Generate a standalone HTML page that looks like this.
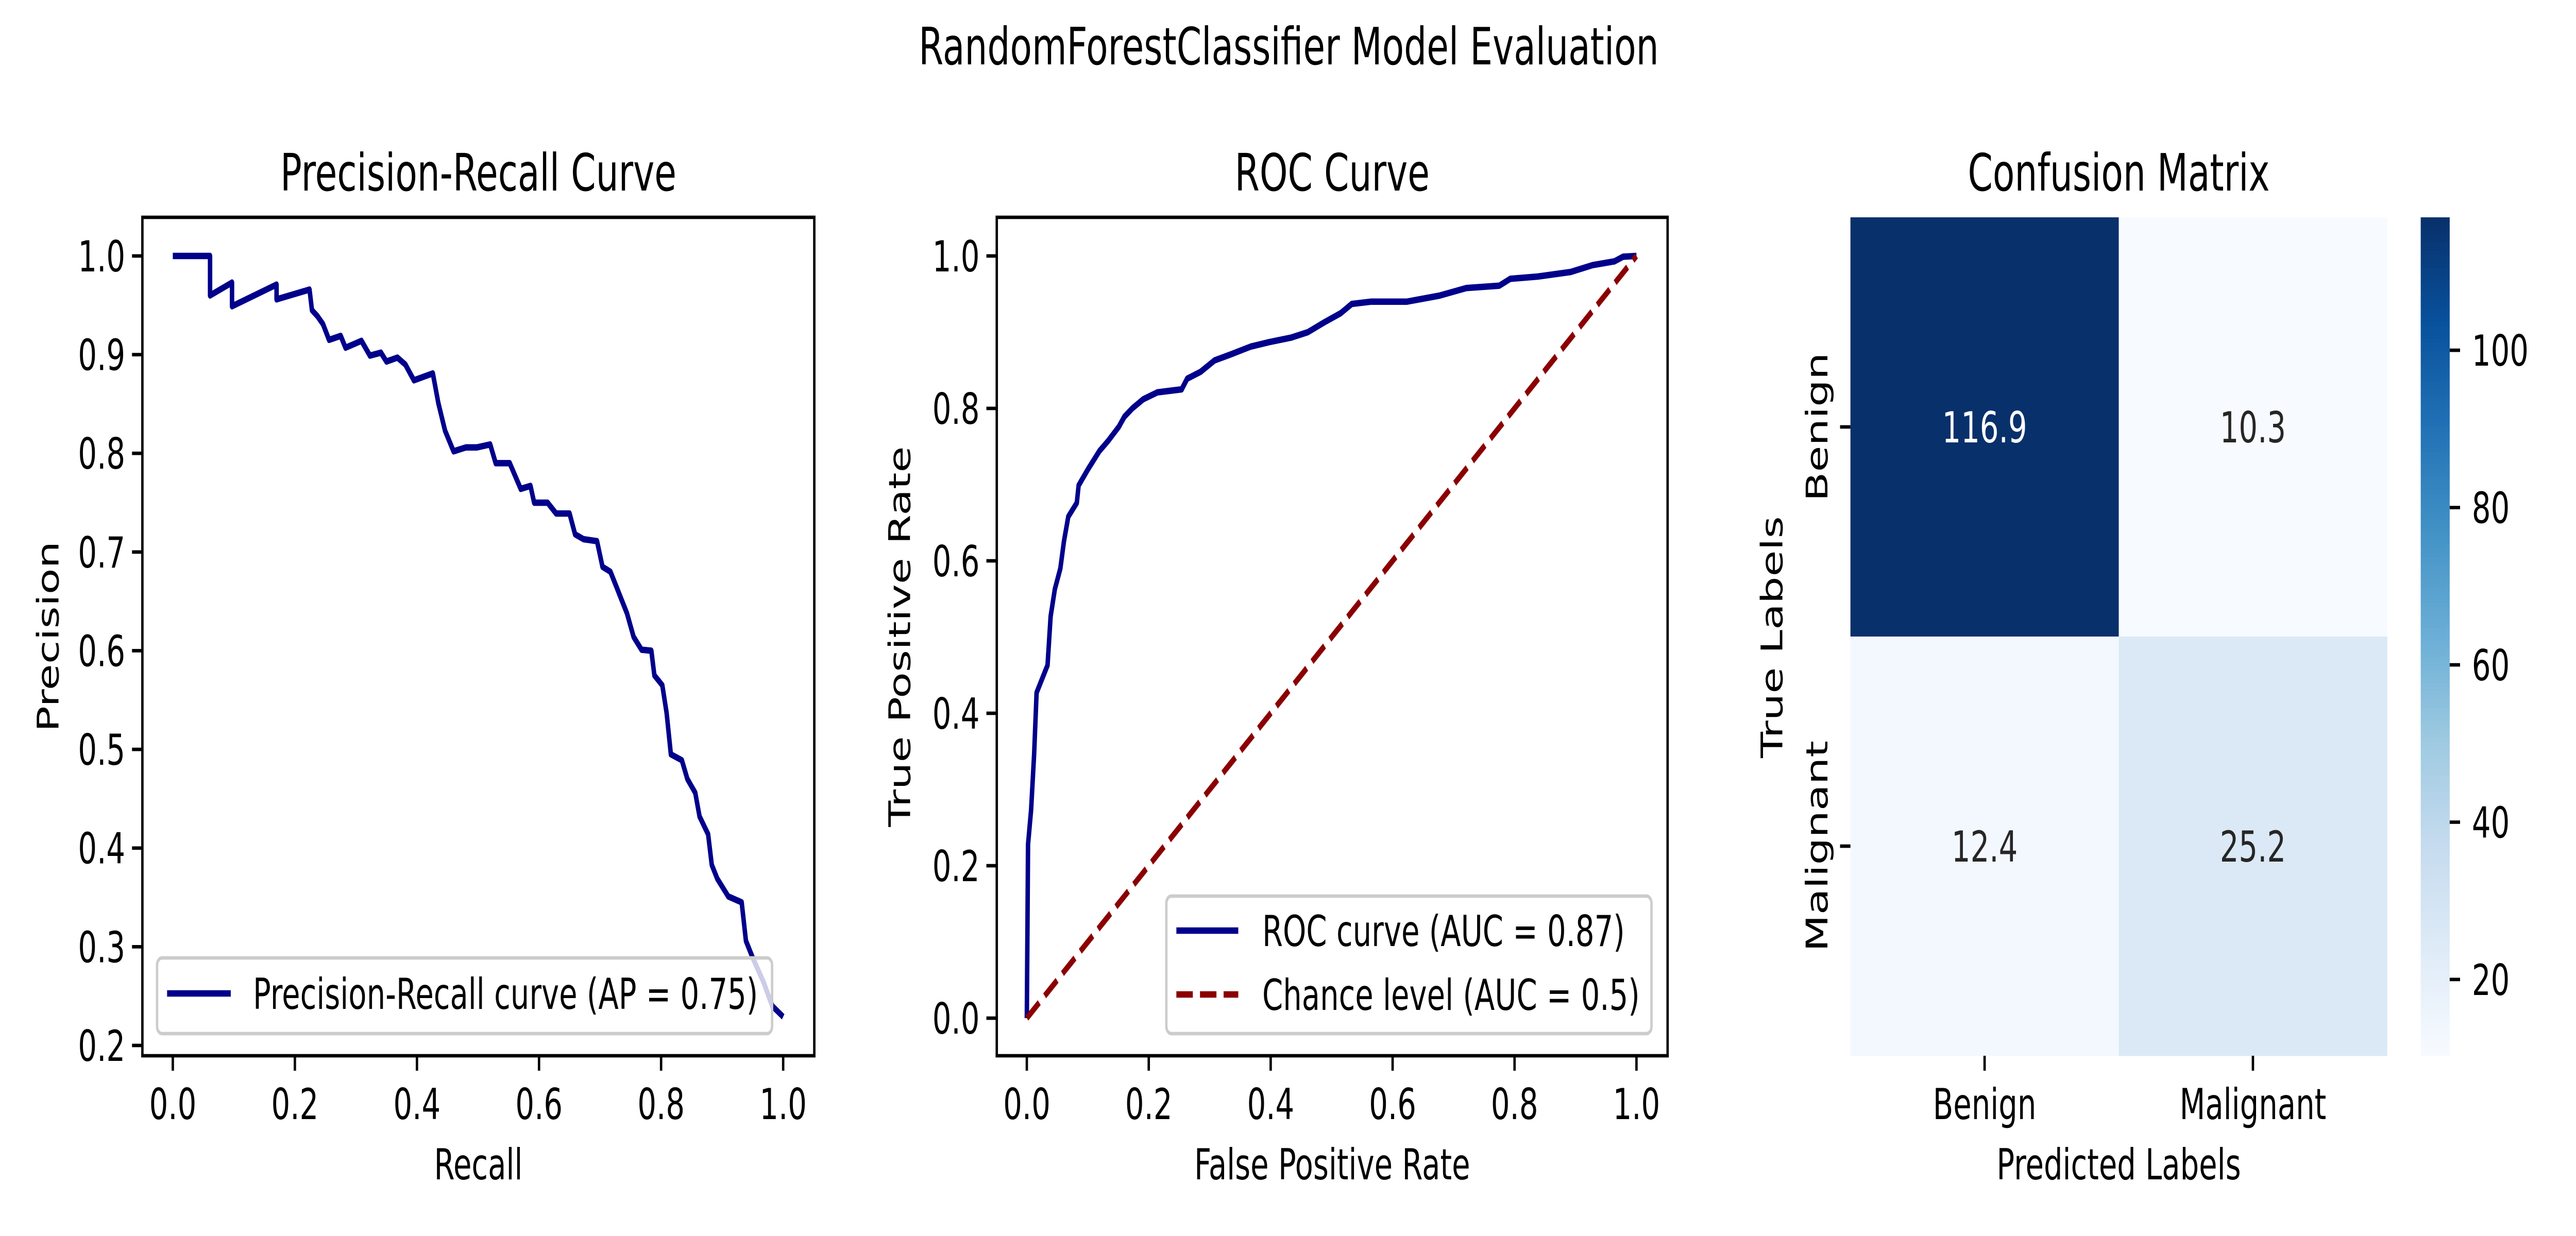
<!DOCTYPE html>
<html><head><meta charset="utf-8"><style>
html,body{margin:0;padding:0;background:#fff;width:100%;height:100%;overflow:hidden}
svg{display:block;width:100vw;height:100vh;font-family:"DejaVu Sans","Liberation Sans",sans-serif}
</style></head><body>
<svg id="fig" xmlns="http://www.w3.org/2000/svg" viewBox="0 0 7200 2400" preserveAspectRatio="none">
<rect width="7200" height="2400" fill="#fff"/>
<text x="3602" y="125" font-size="100" text-anchor="middle">RandomForestClassifier Model Evaluation</text>
</svg>
<script>
const prRecall=[0,0.061,0.061,0.097,0.097,0.170,0.170,0.224,0.228,0.237,0.246,0.256,0.275,0.283,0.309,0.323,0.341,0.350,0.368,0.381,0.395,0.426,0.435,0.446,0.460,0.480,0.498,0.520,0.529,0.552,0.570,0.586,0.592,0.614,0.628,0.650,0.659,0.673,0.695,0.704,0.717,0.726,0.735,0.744,0.755,0.768,0.784,0.789,0.802,0.809,0.816,0.834,0.843,0.856,0.863,0.877,0.883,0.892,0.910,0.932,0.939,0.950,0.968,0.982,1.0];
const prPrecision=[1.0,1.0,0.96,0.973,0.949,0.971,0.956,0.966,0.945,0.939,0.931,0.915,0.919,0.907,0.914,0.899,0.902,0.893,0.897,0.890,0.874,0.881,0.851,0.823,0.802,0.806,0.806,0.809,0.790,0.790,0.764,0.767,0.750,0.750,0.739,0.739,0.718,0.713,0.711,0.685,0.680,0.666,0.652,0.638,0.614,0.601,0.600,0.575,0.565,0.537,0.495,0.489,0.470,0.456,0.432,0.414,0.383,0.369,0.351,0.345,0.306,0.289,0.264,0.240,0.229];
const rocFpr=[0,0.002,0.007,0.012,0.016,0.025,0.034,0.039,0.046,0.055,0.061,0.068,0.082,0.085,0.101,0.119,0.133,0.151,0.160,0.173,0.191,0.214,0.254,0.263,0.285,0.308,0.335,0.367,0.398,0.434,0.461,0.488,0.515,0.533,0.564,0.623,0.677,0.721,0.775,0.793,0.838,0.892,0.928,0.964,0.978,1.0];
const rocTpr=[0,0.228,0.273,0.346,0.427,0.445,0.463,0.527,0.563,0.590,0.626,0.658,0.676,0.699,0.721,0.744,0.757,0.776,0.789,0.800,0.812,0.821,0.825,0.839,0.848,0.863,0.871,0.881,0.887,0.893,0.900,0.913,0.925,0.937,0.940,0.940,0.948,0.958,0.961,0.970,0.973,0.979,0.988,0.993,0.999,1.0];
const cmLabels=["Benign","Malignant"];
const cmValues=[[116.9,10.3],[12.4,25.2]];
const cbTicks=[20,40,60,80,100];
const axTicks=[0,0.2,0.4,0.6,0.8,1.0];
const prYTicks=[0.2,0.3,0.4,0.5,0.6,0.7,0.8,0.9,1.0];

const NS="http://www.w3.org/2000/svg";
const svg=document.getElementById('fig');
function el(tag,attrs,parent,text){const e=document.createElementNS(NS,tag);for(const k in attrs)e.setAttribute(k,attrs[k]);if(text!==undefined)e.textContent=text;(parent||svg).appendChild(e);return e;}
const FS=83;

function axes(name,L,R,T,B,xs,ys,xticks,yticks,title,xlabel,ylabel,ylabX){
  const g=el('g',{});
  
  
  xticks.forEach(v=>{const x=xs(v);
    const t=el('line',{x1:x,x2:x,y1:B,y2:B+29,stroke:'#000','stroke-width':6.7},g);
    
    const l=el('text',{x:x,y:2173,'font-size':FS,'text-anchor':'middle'},g,v.toFixed(1));
    });
  yticks.forEach(v=>{const y=ys(v);
    const t=el('line',{x1:L-29,x2:L,y1:y,y2:y,stroke:'#000','stroke-width':6.7},g);
    
    const l=el('text',{x:L-48,y:y+30,'font-size':FS,'text-anchor':'end'},g,v.toFixed(1));
    });
  const tt=el('text',{x:(L+R)/2,y:370,'font-size':100,'text-anchor':'middle'},g,title);
  
  const xl=el('text',{x:(L+R)/2,y:2290,'font-size':FS,'text-anchor':'middle'},g,xlabel);
  
  const cy=(T+B)/2;
  const yl=el('text',{x:ylabX,y:cy,'font-size':FS,'text-anchor':'middle',transform:`rotate(-90 ${ylabX} ${cy})`,'dominant-baseline':'central'},g,ylabel);
  
  return g;
}
function frame(g,L,R,T,B){const f=el('rect',{x:L,y:T,width:R-L,height:B-T,fill:'none',stroke:'#000','stroke-width':6.7},g);
  }

// PR
{const L=398,R=2276,T=422,B=2050;
 const xs=v=>483+v*(2189-483), ys=v=>497+(1.0-v)*(2030-497)/0.8;
 const g=axes('precision-recall-panel',L,R,T,B,xs,ys,axTicks,prYTicks,'Precision-Recall Curve','Recall','Precision',135);
 const pts=prRecall.map((r,i)=>xs(r).toFixed(1)+','+ys(prPrecision[i]).toFixed(1)).join(' ');
 const p=el('polyline',{points:pts,fill:'none',stroke:'#00008b','stroke-width':12.5,'stroke-linejoin':'round'},g);
 
 const lg=el('g',{},g);
 
 el('rect',{x:439,y:1860,width:1719,height:147,rx:14,fill:'#fff','fill-opacity':0.8,stroke:'#ccc','stroke-width':6.7},lg);
 const ll=el('line',{x1:467,x2:645,y1:1929,y2:1929,stroke:'#00008b','stroke-width':12.5},lg);
 
 const lt=el('text',{x:707,y:1959,'font-size':FS},lg,'Precision-Recall curve (AP = 0.75)');
 
 frame(g,L,R,T,B);}

// ROC
{const L=2786,R=4661,T=422,B=2050;
 const xs=v=>2870+v*(4574-2870), ys=v=>1977-v*(1977-497);
 const g=axes('roc-panel',L,R,T,B,xs,ys,axTicks,axTicks,'ROC Curve','False Positive Rate','True Positive Rate',2515);
 const pts=rocFpr.map((f,i)=>xs(f).toFixed(1)+','+ys(rocTpr[i]).toFixed(1)).join(' ');
 const p=el('polyline',{points:pts,fill:'none',stroke:'#00008b','stroke-width':12.5,'stroke-linejoin':'round'},g);
 
 const d=el('line',{x1:xs(0),y1:ys(0),x2:xs(1),y2:ys(1),stroke:'#8b0000','stroke-width':12.5,'stroke-dasharray':'46 20'},g);
 
 const lg=el('g',{},g);
 
 el('rect',{x:3260,y:1740,width:1356,height:267,rx:14,fill:'#fff','fill-opacity':0.8,stroke:'#ccc','stroke-width':6.7},lg);
 const l1=el('line',{x1:3288,x2:3461,y1:1807,y2:1807,stroke:'#00008b','stroke-width':12.5},lg);
 
 const t1=el('text',{x:3528,y:1837,'font-size':FS},lg,'ROC curve (AUC = 0.87)');
 
 const l2=el('line',{x1:3288,x2:3461,y1:1931,y2:1931,stroke:'#8b0000','stroke-width':12.5,'stroke-dasharray':'46 20'},lg);
 
 const t2=el('text',{x:3528,y:1961,'font-size':FS},lg,'Chance level (AUC = 0.5)');
 
 frame(g,L,R,T,B);}

// Confusion matrix
const blues=['#f7fbff','#deebf7','#c6dbef','#9ecae1','#6baed6','#4292c6','#2171b5','#08519c','#08306b'];
function hex(c){return [1,3,5].map(i=>parseInt(c.substr(i,2),16));}
function blue(t){t=Math.max(0,Math.min(1,t));const s=t*8,i=Math.min(7,Math.floor(s)),f=s-i;const a=hex(blues[i]),b=hex(blues[i+1]);return 'rgb('+a.map((v,k)=>Math.round(v+(b[k]-v)*f)).join(',')+')';}
{const L=5172,R=6672,T=422,B=2050;
 const flat=cmValues.flat(),vmin=Math.min(...flat),vmax=Math.max(...flat);
 const g=el('g',{});
 
 const n=cmLabels.length,cw=(R-L)/n,ch=(B-T)/n;
 cmValues.forEach((row,i)=>row.forEach((v,j)=>{const t=(v-vmin)/(vmax-vmin);
   const r=el('rect',{x:L+j*cw,y:T+i*ch,width:cw+0.5,height:ch+0.5,fill:blue(t)},g);
   
   const tx=el('text',{x:L+(j+0.5)*cw,y:T+(i+0.5)*ch+30,'font-size':FS,'text-anchor':'middle',fill:t>0.5?'#fff':'#262626'},g,v.toFixed(1));
   }));
 cmLabels.forEach((lab,k)=>{const x=L+(k+0.5)*cw,y=T+(k+0.5)*ch;
   el('line',{x1:x,x2:x,y1:B,y2:B+29,stroke:'#000','stroke-width':6.7},g);
   const xl=el('text',{x:x,y:2173,'font-size':FS,'text-anchor':'middle'},g,lab);
   
   el('line',{x1:L-29,x2:L,y1:y,y2:y,stroke:'#000','stroke-width':6.7},g);
   const yl=el('text',{x:5079,y:y,'font-size':FS,'text-anchor':'middle','dominant-baseline':'central',transform:`rotate(-90 5079 ${y})`},g,lab);
   });
 const tt=el('text',{x:(L+R)/2,y:370,'font-size':100,'text-anchor':'middle'},g,'Confusion Matrix');
 
 const xl=el('text',{x:(L+R)/2,y:2290,'font-size':FS,'text-anchor':'middle'},g,'Predicted Labels');
 
 const yl=el('text',{x:4953,y:1237,'font-size':FS,'text-anchor':'middle','dominant-baseline':'central',transform:'rotate(-90 4953 1237)'},g,'True Labels');
 
 // colorbar
 const cb=el('g',{},g);
 
 const CL=6766,CR=6847,steps=200;
 for(let s=0;s<steps;s++){const y0=T+(B-T)*s/steps;
   el('rect',{x:CL,y:y0,width:CR-CL,height:(B-T)/steps+1,fill:blue(1-(s+0.5)/steps)},cb);}
 const cy=v=>B-(v-vmin)/(vmax-vmin)*(B-T);
 cbTicks.forEach(v=>{const y=cy(v);
   el('line',{x1:CR,x2:CR+29,y1:y,y2:y,stroke:'#000','stroke-width':6.7},cb);
   const l=el('text',{x:6909,y:y+30,'font-size':FS},cb,String(v));
   });
}
</script>
</body></html>
